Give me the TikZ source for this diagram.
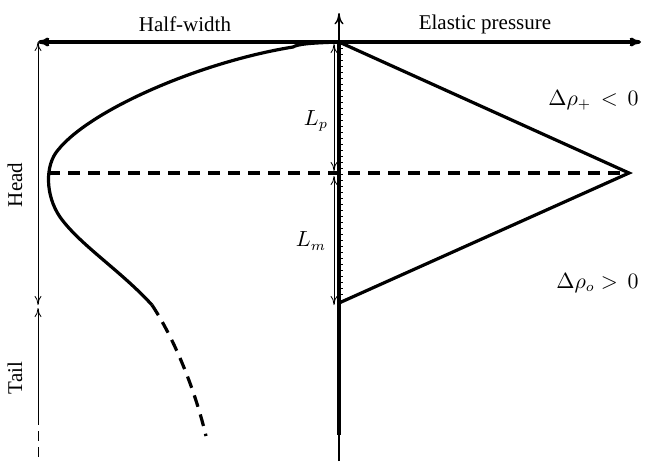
\documentclass[tikz,border=0pt]{standalone}
\usepackage{fontspec}
\setmainfont{Liberation Serif}
\usetikzlibrary{arrows.meta}

\begin{document}
\begin{tikzpicture}[
  x=0.5pt,y=-0.5pt,
  font=\fontsize{10.5}{12}\selectfont,
  thk/.style={line width=1.6pt},
  dim/.style={line width=0.4pt,{To[length=1.6mm,width=1.2mm]}-{To[length=1.6mm,width=1.2mm]}},
  lbl/.style={inner sep=1pt},
  >={To[length=2mm,width=1.6mm]}
]
\useasboundingbox (0,0) rectangle (646,461);
% axes
\coordinate (o) at (339,42);
\coordinate (top) at (339,13);
\coordinate (bot) at (339,461);
\coordinate (hw) at (38,42);
\coordinate (ep) at (641,42);
\coordinate (axend) at (339,435);
\draw[line width=0.7pt,->] (bot) -- (top);
\draw[thk] (o) -- (axend);
\draw[thk,->] (o) -- (hw);
\draw[thk,->] (o) -- (ep);
\foreach \y in {48,54,...,300}
  \draw[line width=0.25pt] (339,\y) -- (342.5,\y);
\node[lbl] (hwl) at (185,24) {Half-width};
\node[lbl] (epl) at (485,24) {Elastic pressure};
% head and tail
\coordinate (h1) at (38,42);
\coordinate (h2) at (38,305);
\coordinate (t1) at (38,308);
\coordinate (t2) at (38,415);
\coordinate (t3) at (38,461);
\draw[dim] (h1) -- (h2);
\draw[line width=0.4pt,{To[length=1.6mm,width=1.2mm]}-] (t1) -- (t2);
\draw[line width=0.4pt,dash pattern=on 5pt off 3pt] (t2) -- (t3);
\node[lbl,rotate=90] (head) at (15,185) {Head};
\node[lbl,rotate=90] (tail) at (15,378) {Tail};
% pressure triangle
\coordinate (tip) at (629,173);
\coordinate (low) at (339,303);
\draw[thk,line join=miter] (o) -- (tip) -- (low);
\draw[thk,dash pattern=on 6pt off 4pt] (48,173) -- (tip);
% Lp, Lm
\coordinate (p1) at (334,44);
\coordinate (p2) at (334,171);
\coordinate (m1) at (334,176);
\coordinate (m2) at (334,305);
\draw[dim] (p1) -- (p2);
\draw[dim] (m1) -- (m2);
\node[lbl] (lp) at (316,121) {$L_p$};
\node[lbl] (lm) at (311,241) {$L_m$};
\node[lbl,anchor=east] (dp) at (641,100) {$\Delta\rho_+\,<\,0$};
\node[lbl,anchor=east] (dm) at (641,283) {$\Delta\rho_o > \,0$};
% half-width profile
\draw[thk] (o) .. controls (310,43) and (298,44) .. (293,47)
  .. controls (200,62) and (90,110) .. (58,150)
  .. controls (45,165) and (45,195) .. (60,217)
  .. controls (80,245) and (120,270) .. (152,305);
\draw[thk,dash pattern=on 6pt off 4pt] (152,305)
  .. controls (175,340) and (195,390) .. (206,436);
\end{tikzpicture}
\end{document}
